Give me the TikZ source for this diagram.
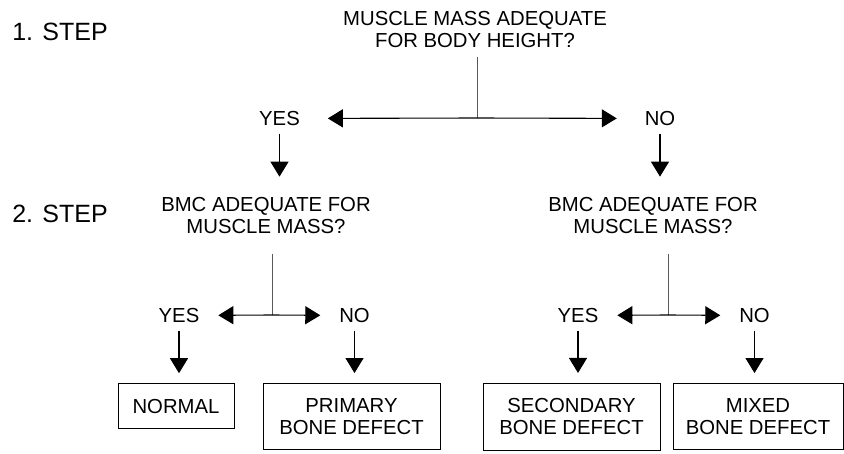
\documentclass[tikz,border=0pt]{standalone}
\usepackage{fontspec}
\setmainfont{Liberation Sans}
\usetikzlibrary{arrows.meta}

\begin{document}
\begin{tikzpicture}[x=1pt,y=-1pt,>={Triangle[length=15pt,width=18pt]},line width=1.1pt,
    font=\fontsize{20.3}{21.5}\selectfont]
  \tikzstyle{question}=[align=center,inner sep=0pt,text depth=0pt,outer ysep=21pt]
  \tikzstyle{answer}=[inner sep=0pt,text depth=0pt,outer xsep=19pt,outer ysep=8pt]
  \tikzstyle{result}=[draw,line width=0.9pt,align=center,inner xsep=0pt,inner ysep=15.7pt,text depth=0pt,outer ysep=10pt]
  \tikzstyle{steplabel}=[inner sep=0pt,font=\fontsize{25}{30}\selectfont]
  \tikzstyle{stem}=[black!65,line width=0.9pt]

  \useasboundingbox (0,0) rectangle (844,453);

  % step labels
  \node[steplabel] (step1) at (60,32)  {1. STEP};
  \node[steplabel] (step2) at (60,214) {2. STEP};

  % first question
  \node[question,outer ysep=10pt] (q1) at (475,29.5) {MUSCLE MASS ADEQUATE\\FOR BODY HEIGHT?};
  \coordinate (j1) at (477,118);
  \node[answer,outer xsep=28pt] (yes1) at (279.5,118.5) {YES};
  \node[answer,outer xsep=28pt] (no1)  at (660,118.5)   {NO};

  % second questions
  \node[question] (q2l) at (266,215.5) {BMC ADEQUATE FOR\\MUSCLE MASS?};
  \node[question] (q2r) at (653,215.5) {BMC ADEQUATE FOR\\MUSCLE MASS?};
  \coordinate (j2l) at (272,315);
  \coordinate (j2r) at (668,315);
  \node[answer] (yes2l) at (179,315.5)   {YES};
  \node[answer] (no2l)  at (354.5,315.5) {NO};
  \node[answer] (yes2r) at (578,315.5)   {YES};
  \node[answer] (no2r)  at (754.5,315.5) {NO};

  % results
  \node[result,minimum width=116pt] (normal)    at (176,406)     {NORMAL};
  \node[result,minimum width=177pt] (primary)   at (351.5,416.5) {PRIMARY\\BONE DEFECT};
  \node[result,minimum width=177pt] (secondary) at (571.5,416.5) {SECONDARY\\BONE DEFECT};
  \node[result,minimum width=170pt] (mixed)     at (758,416.5)   {MIXED\\BONE DEFECT};

  % connectors
  \draw[stem] (q1.south -| j1) -- (j1);
  \draw[->] (j1) -- (yes1);
  \draw[->] (j1) -- (no1);
  \draw[->] (yes1) -- (yes1 |- q2l.north);
  \draw[->] (no1) -- (no1 |- q2r.north);

  \draw[stem] (q2l.south -| j2l) -- (j2l);
  \draw[->] (j2l) -- (yes2l);
  \draw[->] (j2l) -- (no2l);
  \draw[stem] (q2r.south -| j2r) -- (j2r);
  \draw[->] (j2r) -- (yes2r);
  \draw[->] (j2r) -- (no2r);

  \draw[->] (yes2l) -- (yes2l |- normal.north);
  \draw[->] (no2l) -- (no2l |- primary.north);
  \draw[->] (yes2r) -- (yes2r |- secondary.north);
  \draw[->] (no2r) -- (no2r |- mixed.north);
\end{tikzpicture}
\end{document}
